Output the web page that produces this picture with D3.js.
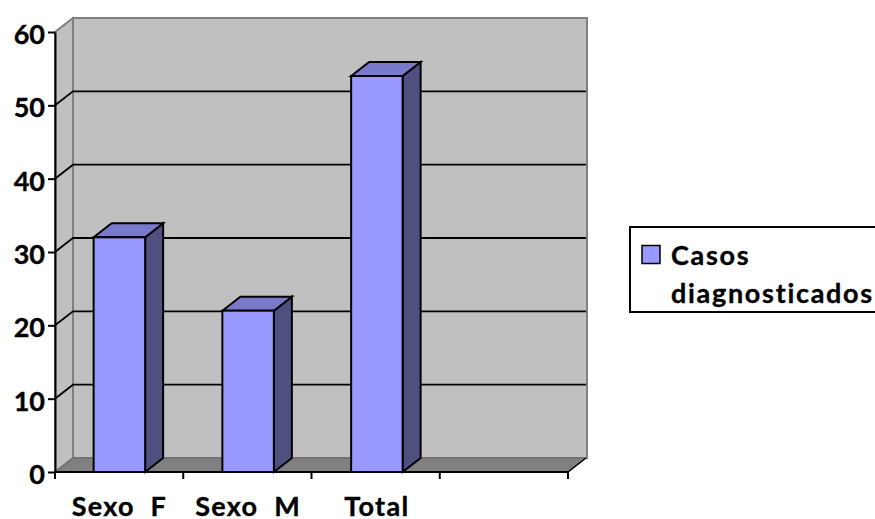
<!DOCTYPE html>
<html lang="pt">
<head>
  <meta charset="UTF-8" />
  <title>Casos diagnosticados</title>
  <script src="https://cdn.jsdelivr.net/npm/d3@7/dist/d3.min.js"></script>
  <style>
    html, body { margin: 0; padding: 0; background: #fff; overflow: hidden; }
    svg { display: block; }
    text { font-family: Lato, "Open Sans", sans-serif; font-weight: 700; fill: #000; stroke: #000; stroke-width: 0.35px; white-space: pre; }
  </style>
</head>
<body>
  <script>
    // Chart data
    const categories = ["Sexo  F", "Sexo  M", "Total", ""];
    const values = [32, 22, 54, null];
    const yTicks = [0, 10, 20, 30, 40, 50, 60];
    const legendLines = ["Casos", "diagnosticados"];

    const width = 875, height = 519;
    // depth of the fake 3D box
    const depthX = 18, depthY = -14;
    const x0 = 55, x1 = 568;

    const svg = d3.select("body").append("svg")
      .attr("width", width)
      .attr("height", height);

    const x = d3.scaleBand()
      .domain(categories)
      .range([x0, x1 + 2])
      .paddingInner(0.6)
      .paddingOuter(0.3);

    // tick marks between categories
    const xSep = d3.scaleLinear().domain([0, categories.length]).range([x0, x1]);

    const y = d3.scaleLinear().domain([0, 60]).range([472, 32]);

    const y0 = y(0), yTop = y(60);
    const poly = pts => pts.map(p => p.join(",")).join(" ");

    // ----------------------------
    // Walls and floor
    // ----------------------------
    const wallStroke = "#808080";
    svg.append("polygon") // left wall
      .attr("points", poly([[x0, y0], [x0 + depthX, y0 + depthY], [x0 + depthX, yTop + depthY], [x0, yTop]]))
      .attr("fill", "#c0c0c0").attr("stroke", wallStroke).attr("stroke-width", 2);
    svg.append("rect") // back wall
      .attr("x", x0 + depthX).attr("y", yTop + depthY)
      .attr("width", x1 - x0 + 1).attr("height", y0 - yTop)
      .attr("fill", "#c0c0c0").attr("stroke", wallStroke).attr("stroke-width", 2);
    svg.append("polygon") // floor
      .attr("points", poly([[x0, y0], [x0 + depthX, y0 + depthY], [x1 + depthX, y0 + depthY], [x1, y0]]))
      .attr("fill", "#808080").attr("stroke", "#666").attr("stroke-width", 1);
    svg.append("line") // right edge of the floor
      .attr("x1", x1).attr("y1", y0)
      .attr("x2", x1 + depthX).attr("y2", y0 + depthY)
      .attr("stroke", "#000").attr("stroke-width", 1.5);

    // ----------------------------
    // Gridlines, along the left wall and across the back
    // ----------------------------
    svg.append("g").selectAll("polyline")
      .data(yTicks.filter(d => d > 0 && d < 60))
      .join("polyline")
      .attr("fill", "none")
      .attr("stroke", "#000")
      .attr("stroke-width", 1.8)
      .attr("points", d => poly([[x0, y(d)], [x0 + depthX, y(d) + depthY], [x1 + depthX, y(d) + depthY]]));

    // ----------------------------
    // Bars: side, top, then front
    // ----------------------------
    const bars = svg.append("g").selectAll("g")
      .data(categories.map((c, i) => ({ c, v: values[i] })).filter(d => d.v !== null))
      .join("g")
      .attr("stroke", "#000")
      .attr("stroke-width", 2);

    bars.append("polygon")
      .attr("fill", "#4f4f80")
      .attr("points", d => {
        const r = x(d.c) + x.bandwidth();
        return poly([[r, y0], [r + depthX, y0 + depthY], [r + depthX, y(d.v) + depthY], [r, y(d.v)]]);
      });
    bars.append("polygon")
      .attr("fill", "#7a7acc")
      .attr("points", d => {
        const l = x(d.c), r = l + x.bandwidth(), t = y(d.v);
        return poly([[l, t], [l + depthX, t + depthY], [r + depthX, t + depthY], [r, t]]);
      });
    bars.append("rect")
      .attr("fill", "#9999ff")
      .attr("x", d => x(d.c))
      .attr("y", d => y(d.v))
      .attr("width", x.bandwidth())
      .attr("height", d => y0 - y(d.v));

    // ----------------------------
    // Axes
    // ----------------------------
    const yAxis = svg.append("g")
      .attr("transform", `translate(${x0},0)`)
      .call(d3.axisLeft(y).tickValues(yTicks).tickSize(7).tickPadding(3).tickSizeOuter(0));
    yAxis.selectAll("path, line").attr("stroke", "#000").attr("stroke-width", 2);
    yAxis.selectAll("text").attr("font-size", 27).attr("dy", "0.42em");
    yAxis.attr("font-family", null).attr("font-size", null);

    const xAxis = svg.append("g")
      .attr("transform", `translate(0,${y0})`)
      .call(d3.axisBottom(x).tickSize(0).tickPadding(25));
    xAxis.select("path")
      .attr("d", `M${x0},0H${x1}`)
      .attr("stroke", "#000").attr("stroke-width", 2);
    xAxis.selectAll("text").attr("font-size", 27).style("letter-spacing", "1.3px");
    xAxis.attr("font-family", null).attr("font-size", null);

    xAxis.selectAll("line.sep")
      .data(d3.range(categories.length + 1))
      .join("line")
      .attr("class", "sep")
      .attr("x1", i => xSep(i))
      .attr("x2", i => xSep(i))
      .attr("y1", 0)
      .attr("y2", 7)
      .attr("stroke", "#000")
      .attr("stroke-width", 2);

    // ----------------------------
    // Legend
    // ----------------------------
    const legend = svg.append("g");
    legend.append("rect")
      .attr("x", 630).attr("y", 227)
      .attr("width", 260).attr("height", 85)
      .attr("fill", "#fff").attr("stroke", "#000").attr("stroke-width", 2);
    legend.append("rect")
      .attr("x", 642).attr("y", 245.5)
      .attr("width", 18).attr("height", 18)
      .attr("fill", "#9999ff").attr("stroke", "#000").attr("stroke-width", 1.5);
    legend.selectAll("text")
      .data(legendLines)
      .join("text")
      .attr("x", 671)
      .attr("y", (d, i) => 265 + i * 37.5)
      .attr("font-size", 27)
      .style("letter-spacing", "1.7px")
      .text(d => d);
  </script>
</body>
</html>
